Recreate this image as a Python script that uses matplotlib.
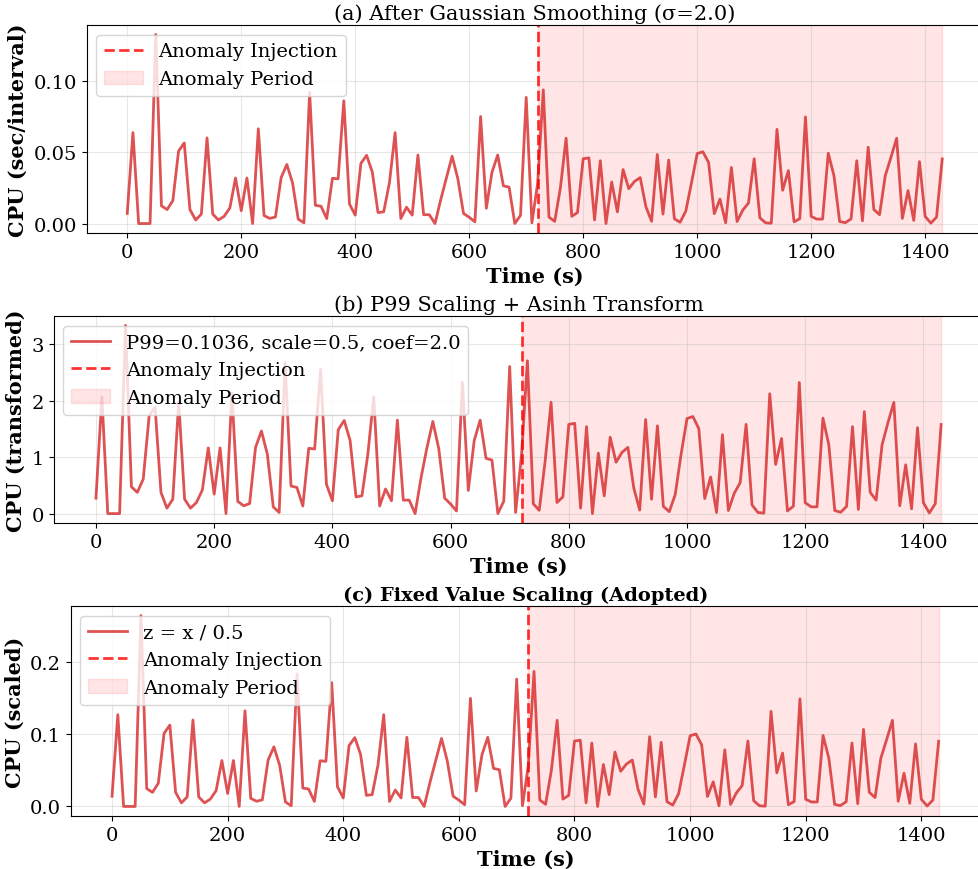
import numpy as np
import matplotlib
matplotlib.use("Agg")
import matplotlib.pyplot as plt

plt.rcParams['font.family'] = ['DejaVu Serif']

# time index (s)
time_s = np.arange(0, 1440, 10)

# CPU after Gaussian smoothing (sec/interval)
cpu_smoothed = [
    0.0071, 0.0637, 0.0000, 0.0000, 0.0000, 0.1325, 0.0124, 0.0098, 0.0161, 0.0507,
    0.0565, 0.0098, 0.0025, 0.0066, 0.0600, 0.0066, 0.0025, 0.0051, 0.0109, 0.0319,
    0.0090, 0.0319, 0.0000, 0.0664, 0.0056, 0.0036, 0.0046, 0.0322, 0.0414, 0.0285,
    0.0031, 0.0005, 0.0920, 0.0128, 0.0121, 0.0035, 0.0317, 0.0313, 0.0860, 0.0136,
    0.0059, 0.0422, 0.0478, 0.0360, 0.0077, 0.0082, 0.0285, 0.0637, 0.0035, 0.0114,
    0.0059, 0.0480, 0.0062, 0.0062, 0.0000, 0.0167, 0.0320, 0.0472, 0.0315, 0.0071,
    0.0044, 0.0012, 0.0750, 0.0107, 0.0360, 0.0480, 0.0264, 0.0255, 0.0000, 0.0057,
    0.0884, 0.0005, 0.0280, 0.0937, 0.0045, 0.0015, 0.0250, 0.0598, 0.0051, 0.0077,
    0.0454, 0.0460, 0.0025, 0.0440, 0.0000, 0.0291, 0.0082, 0.0378, 0.0244, 0.0295,
    0.0322, 0.0118, 0.0016, 0.0484, 0.0066, 0.0445, 0.0033, 0.0009, 0.0087, 0.0285,
    0.0490, 0.0503, 0.0428, 0.0069, 0.0171, 0.0005, 0.0393, 0.0014, 0.0094, 0.0144,
    0.0454, 0.0040, 0.0005, 0.0002, 0.0660, 0.0233, 0.0371, 0.0012, 0.0034, 0.0747,
    0.0050, 0.0031, 0.0031, 0.0493, 0.0335, 0.0014, 0.0006, 0.0033, 0.0440, 0.0019,
    0.0535, 0.0098, 0.0062, 0.0335, 0.0464, 0.0598, 0.0036, 0.0231, 0.0022, 0.0434,
    0.0050, 0.0003, 0.0045, 0.0453,
]

p99 = 0.1036
scale = 0.5
coef = 2.0
injection_time = 720
period_end = 1430

x = np.array(cpu_smoothed)
cpu_asinh = coef * np.arcsinh(x / (p99 * scale))
cpu_fixed = x / scale

W, H = 979, 870
fig = plt.figure(figsize=(W / 100, H / 100), dpi=100)

def add_ax(left, top, right, bottom):
    return fig.add_axes([left / W, 1 - bottom / H, (right - left) / W, (bottom - top) / H])

line_color = '#d62728'

axes_specs = [
    (86.5, 26, 983, 234),
    (53.7, 317, 983.4, 524),
    (70.7, 607, 980, 817),
]

series = [x, cpu_asinh, cpu_fixed]
labels = [None, f'P99={p99}, scale={scale}, coef={coef}', 'z = x / 0.5']
titles = ['(a) After Gaussian Smoothing (σ=2.0)', '(b) P99 Scaling + Asinh Transform',
          '(c) Fixed Value Scaling (Adopted)']
ylabels = ['CPU (sec/interval)', 'CPU (transformed)', 'CPU (scaled)']

for i, box in enumerate(axes_specs):
    ax = add_ax(*box)
    ax.plot(time_s, series[i], color=line_color, alpha=0.8, linewidth=2, label=labels[i])
    ax.axvline(injection_time, color='red', linestyle='--', linewidth=2, alpha=0.8,
               label='Anomaly Injection')
    ax.axvspan(injection_time, period_end, color='red', alpha=0.1, label='Anomaly Period')
    ax.set_xlim(-71.5, 1501.5)
    ax.set_xticks(np.arange(0, 1401, 200))
    ax.grid(True, alpha=0.3)
    ax.set_xlabel('Time (s)', fontsize=15, fontweight='bold', labelpad=4)
    ax.set_ylabel(ylabels[i], fontsize=15, fontweight='bold')
    if i == 2:
        ax.set_title(titles[i], fontsize=14, fontweight='bold', pad=4)
    else:
        ax.set_title(titles[i], fontsize=15, pad=4)
    ax.tick_params(labelsize=14)
    ax.legend(loc='upper left', fontsize=14)

fig.savefig('out.png', dpi=100)
